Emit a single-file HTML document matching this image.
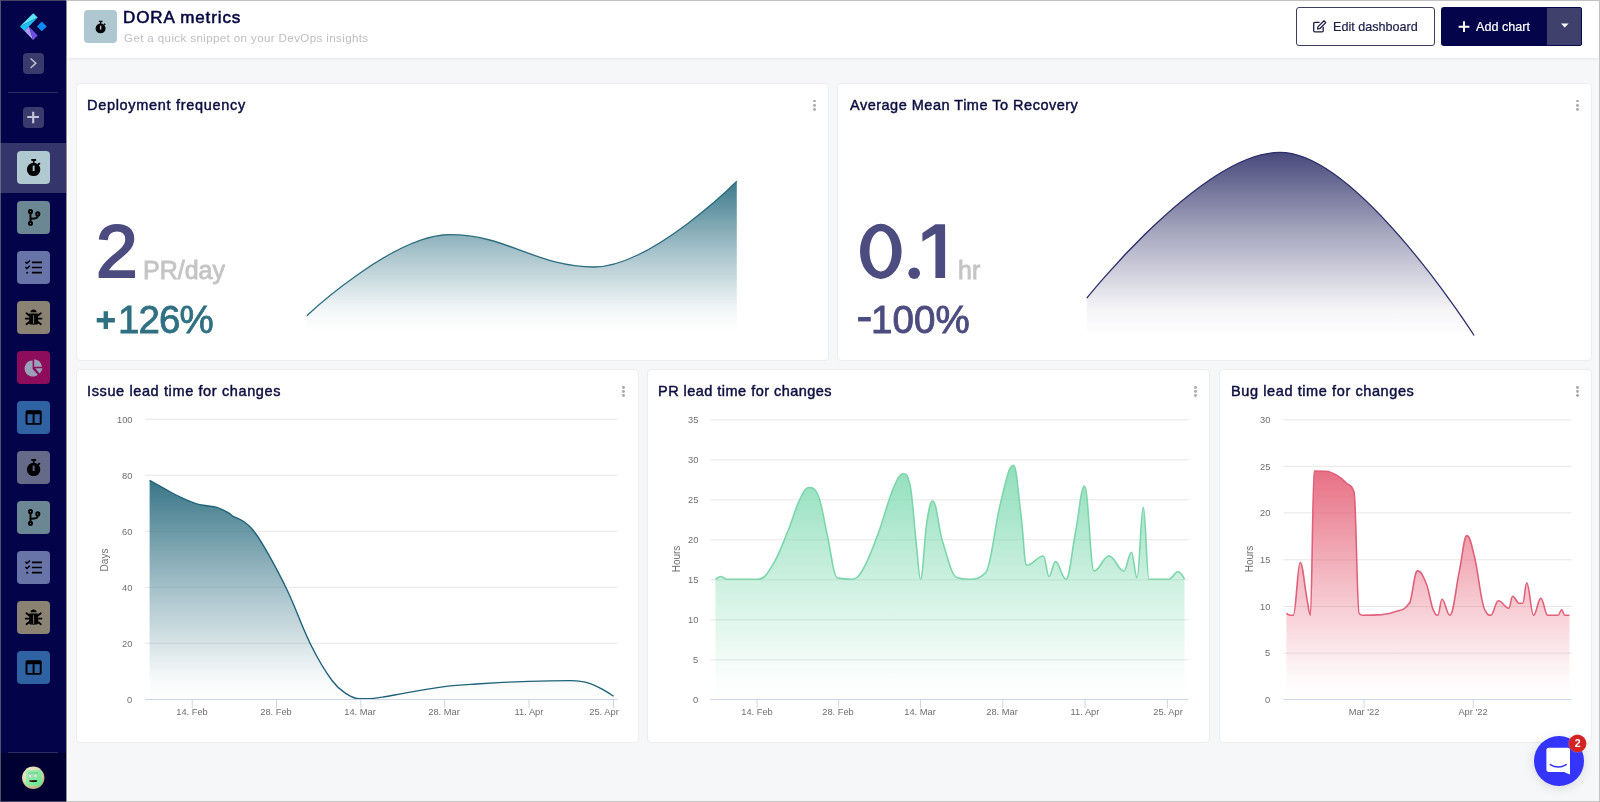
<!DOCTYPE html>
<html><head><meta charset="utf-8">
<style>
*{box-sizing:border-box;margin:0;padding:0}
html,body{width:1600px;height:802px;overflow:hidden;font-family:"Liberation Sans",sans-serif}
body{position:relative;background:#c4c4c4}
.abs{position:absolute}
#main{position:absolute;left:1px;top:1px;width:1598px;height:800px;background:#f6f7f9}
#side{position:absolute;left:0;top:0;width:66px;height:802px;background:#03034a}
#foot{position:absolute;left:0;top:753px;width:66px;height:49px;background:#000132}
.sep{position:absolute;left:8px;width:50px;height:1px;background:#2c2d63}
.ov{position:absolute;background:rgba(130,130,130,0.52)}
#sel{position:absolute;left:0;top:143px;width:66px;height:50px;background:#34356a}
.sb{position:absolute;left:16.6px;width:33.4px;height:33.4px;border-radius:4px;overflow:hidden}
.sb svg{position:absolute;left:0;top:0}
.sm{position:absolute;left:23px;width:20.5px;height:20.5px;border-radius:4px;background:#3a3b6c}
#vline{position:absolute;left:66px;top:1px;width:1px;height:800px;background:#8e8e94}
#wline{position:absolute;left:67px;top:1px;width:1px;height:800px;background:#fff}
#header{position:absolute;left:67px;top:1px;width:1532px;height:56.5px;background:#fff;box-shadow:0 1px 3px rgba(0,0,0,0.07)}
.card{position:absolute;background:#fff;border:1px solid #ededed;border-radius:4px}
.ttl{position:absolute;font-size:14.5px;color:#0d0f3f;white-space:nowrap;-webkit-text-stroke:0.45px #0d0f3f;line-height:1}
.dots{position:absolute;width:3px}
.dots i{display:block;width:2.8px;height:2.8px;border-radius:50%;background:#ababab;margin-bottom:1.3px}
.ax{position:absolute;font-size:9.3px;color:#6e6e6e;white-space:nowrap;line-height:1}
.ttl,.ax,.abs{will-change:transform}
</style></head>
<body>
<div id="main"></div>
<div id="side"></div>
<div id="sel"></div>
<div id="foot"></div>
<div class="sep" style="top:92px"></div>
<div class="sep" style="top:752px"></div>
<svg class="abs" style="left:0;top:0" width="66" height="45" viewBox="0 0 66 45">
  <polygon points="19.9,26.4 33.2,13.2 37.7,17.6" fill="#5fe3f7"/>
  <polygon points="19.9,26.4 37.7,17.6 24.4,30.9" fill="#1cc1f2"/>
  <polygon points="24.4,30.9 28.9,26.4 33.2,39.9" fill="#a99af2"/>
  <polygon points="28.9,26.4 37.7,35.4 33.2,39.9" fill="#6f4fe3"/>
  <polygon points="41.8,21.5 46.7,26.4 41.8,31.3 36.9,26.4" fill="#0b8bf6"/>
</svg>
<div class="sm" style="top:53px"><svg width="21" height="21" viewBox="0 0 21 21"><path d="M7.6 5.5 L12.8 10.2 L7.6 15" fill="none" stroke="#b9b9d2" stroke-width="1.6"/></svg></div>
<div class="sm" style="top:107.3px"><svg width="21" height="21" viewBox="0 0 21 21"><path d="M4.2 10 H16 M10.2 4.7 V16.2" fill="none" stroke="#c3c3da" stroke-width="2.2"/></svg></div>
<div class="sb" style="top:151px;background:#b0c8d0"><svg width="33" height="33" viewBox="0 0 33 33"><circle cx="16.6" cy="18.4" r="6.7" fill="#000"/><rect x="14.3" y="8" width="4.8" height="1.9" fill="#000"/><rect x="15.9" y="9" width="1.6" height="3.5" fill="#000"/><path d="M20.4 12.9 L22.3 11.4 L23.5 12.7 L21.7 14.4Z" fill="#000"/><rect x="15.7" y="14.6" width="1.9" height="5.4" fill="#b0c8d0"/></svg></div>
<div class="sb" style="top:201px;background:#6b8794"><svg width="33" height="33" viewBox="0 0 33 33"><g fill="none" stroke="#000" stroke-width="1.9"><circle cx="13.5" cy="10.6" r="1.6"/><circle cx="13.5" cy="22.3" r="1.6"/><circle cx="20.8" cy="12.9" r="1.6"/><path d="M13.5 12.3 V20.6"/><path d="M20.8 14.6 C20.8 17.5 18 17.5 13.5 17.8"/></g></svg></div>
<div class="sb" style="top:251px;background:#6873a8"><svg width="33" height="33" viewBox="0 0 33 33"><g stroke="#000" stroke-width="1.7" fill="none"><path d="M14.9 11.3 H24.9 M14.9 16.5 H24.9 M14.9 21.7 H24.9"/><path d="M8.4 10.9 L10 12.3 L12.9 9.6 M8.4 16.1 L10 17.5 L12.9 14.8" stroke-width="1.4"/></g><circle cx="10.2" cy="21.7" r="1" fill="#000"/></svg></div>
<div class="sb" style="top:301px;background:#8a8373"><svg width="33" height="33" viewBox="0 0 33 33"><g fill="#000"><path d="M13.5 11.2 C13.5 7.6 19.6 7.6 19.6 11.2Z"/><path d="M12.2 12.4 H21 V22.8 C21 24 12.2 24 12.2 22.8Z"/></g><rect x="16.2" y="14.2" width="0.9" height="8.6" fill="#8a8373"/><g stroke="#000" stroke-width="1.8" stroke-linecap="round"><path d="M9.5 12.3 L12.3 14.5 M23.8 12.3 L21 14.5 M8.7 17.6 H12.2 M24.5 17.6 H21 M9.5 23.2 L12.3 21 M23.8 23.2 L21 21"/></g></svg></div>
<div class="sb" style="top:351px;background:#8e0c5c"><svg width="33" height="33" viewBox="0 0 33 33"><g fill="#9aa0b8"><path d="M15.6 9.4 A8.1 8.1 0 1 0 20.9 23.7 L15.6 17.9Z"/><path d="M17.2 8.2 A8.2 8.2 0 0 1 24.9 15.8 H17.2Z"/><path d="M18.2 17.3 H25.4 A8 8 0 0 1 22.6 22.4Z"/></g></svg></div>
<div class="sb" style="top:401px;background:#2e62a2"><svg width="33" height="33" viewBox="0 0 33 33"><g fill="none" stroke="#000" stroke-width="1.9"><rect x="9.5" y="10.3" width="14.2" height="12.6" rx="1"/><path d="M16.6 12 V23"/></g><rect x="9" y="9.8" width="15.2" height="3.4" fill="#000"/></svg></div>
<div class="sb" style="top:451px;background:#656a88"><svg width="33" height="33" viewBox="0 0 33 33"><circle cx="16.6" cy="18.4" r="6.7" fill="#000"/><rect x="14.3" y="8" width="4.8" height="1.9" fill="#000"/><rect x="15.9" y="9" width="1.6" height="3.5" fill="#000"/><path d="M20.4 12.9 L22.3 11.4 L23.5 12.7 L21.7 14.4Z" fill="#000"/><rect x="15.7" y="14.6" width="1.9" height="5.4" fill="#656a88"/></svg></div>
<div class="sb" style="top:501px;background:#6b8794"><svg width="33" height="33" viewBox="0 0 33 33"><g fill="none" stroke="#000" stroke-width="1.9"><circle cx="13.5" cy="10.6" r="1.6"/><circle cx="13.5" cy="22.3" r="1.6"/><circle cx="20.8" cy="12.9" r="1.6"/><path d="M13.5 12.3 V20.6"/><path d="M20.8 14.6 C20.8 17.5 18 17.5 13.5 17.8"/></g></svg></div>
<div class="sb" style="top:551px;background:#6873a8"><svg width="33" height="33" viewBox="0 0 33 33"><g stroke="#000" stroke-width="1.7" fill="none"><path d="M14.9 11.3 H24.9 M14.9 16.5 H24.9 M14.9 21.7 H24.9"/><path d="M8.4 10.9 L10 12.3 L12.9 9.6 M8.4 16.1 L10 17.5 L12.9 14.8" stroke-width="1.4"/></g><circle cx="10.2" cy="21.7" r="1" fill="#000"/></svg></div>
<div class="sb" style="top:601px;background:#8a8373"><svg width="33" height="33" viewBox="0 0 33 33"><g fill="#000"><path d="M13.5 11.2 C13.5 7.6 19.6 7.6 19.6 11.2Z"/><path d="M12.2 12.4 H21 V22.8 C21 24 12.2 24 12.2 22.8Z"/></g><rect x="16.2" y="14.2" width="0.9" height="8.6" fill="#8a8373"/><g stroke="#000" stroke-width="1.8" stroke-linecap="round"><path d="M9.5 12.3 L12.3 14.5 M23.8 12.3 L21 14.5 M8.7 17.6 H12.2 M24.5 17.6 H21 M9.5 23.2 L12.3 21 M23.8 23.2 L21 21"/></g></svg></div>
<div class="sb" style="top:651px;background:#2e62a2"><svg width="33" height="33" viewBox="0 0 33 33"><g fill="none" stroke="#000" stroke-width="1.9"><rect x="9.5" y="10.3" width="14.2" height="12.6" rx="1"/><path d="M16.6 12 V23"/></g><rect x="9" y="9.8" width="15.2" height="3.4" fill="#000"/></svg></div><div class="ov" style="left:0;top:0;width:1px;height:802px;background:rgba(140,140,140,0.58)"></div><div class="ov" style="left:1px;top:0;width:66px;height:1px"></div><div class="ov" style="left:1px;top:801px;width:66px;height:1px"></div><div id="vline"></div><div id="wline"></div>
<div id="header"></div>
<div class="abs" style="left:84px;top:10px;width:33px;height:33px;border-radius:4px;background:#aec7d0">
<svg width="33" height="33" viewBox="0 0 33 33"><g transform="translate(16.5 17) scale(0.74) translate(-16.5 -16.5)"><circle cx="16.6" cy="18.4" r="6.7" fill="#000"/><rect x="14.3" y="8" width="4.8" height="1.9" fill="#000"/><rect x="15.9" y="9" width="1.6" height="3.5" fill="#000"/><path d="M20.4 12.9 L22.3 11.4 L23.5 12.7 L21.7 14.4Z" fill="#000"/><rect x="15.7" y="14.6" width="1.9" height="5.4" fill="#aec7d0"/></g></svg>
</div>
<div class="abs" id="htitle" style="left:122.8px;top:8px;font-size:17px;line-height:20px;color:#04053f;white-space:nowrap;letter-spacing:0.87px;-webkit-text-stroke:0.55px #04053f">DORA metrics</div>
<div class="abs" id="hsub" style="left:123.5px;top:31px;font-size:11.6px;line-height:14px;color:#bdbdc3;white-space:nowrap;letter-spacing:0.366px">Get a quick snippet on your DevOps insights</div>
<div class="abs" style="left:1296px;top:7px;width:139px;height:39px;border:1px solid #3c3e5f;border-radius:3px;background:#fff"></div>
<svg class="abs" style="left:1312px;top:19px" width="16" height="15" viewBox="0 0 16 15"><path d="M7.6 3.4 H2.8 Q1.7 3.4 1.7 4.5 V11.8 Q1.7 12.9 2.8 12.9 H10.1 Q11.2 12.9 11.2 11.8 V7.8" fill="none" stroke="#1b1d45" stroke-width="1.3"/><path d="M5.6 10 L5.9 7.9 L12 1.8 L13.8 3.6 L7.7 9.7Z" fill="none" stroke="#1b1d45" stroke-width="1.25" stroke-linejoin="round"/></svg>
<div class="abs" id="bedit" style="left:1332.6px;top:20.2px;font-size:12.6px;line-height:15px;color:#1b1d45;white-space:nowrap;-webkit-text-stroke:0.2px #1b1d45">Edit dashboard</div>
<div class="abs" style="left:1441px;top:7px;width:141px;height:39px;border-radius:3px;background:#03044a;overflow:hidden"><div class="abs" style="left:106px;top:0;width:35px;height:39px;background:#3f416c;box-shadow:inset -1px 0 0 #06074e,inset 0 1px 0 #06074e,inset 0 -1px 0 #06074e"></div></div>
<svg class="abs" style="left:1457px;top:20px" width="14" height="14" viewBox="0 0 14 14"><path d="M1.6 6.7 H12.4 M7 1.3 V12" stroke="#fff" stroke-width="1.9"/></svg>
<div class="abs" id="badd" style="left:1475.5px;top:20.2px;font-size:12.6px;line-height:15px;color:#fff;white-space:nowrap;-webkit-text-stroke:0.2px #fff">Add chart</div>
<svg class="abs" style="left:1559px;top:22px" width="12" height="8" viewBox="0 0 12 8"><path d="M2 1.6 H9.6 L5.8 5.6Z" fill="#fff"/></svg>
<svg class="abs" style="left:20px;top:765px" width="27" height="27" viewBox="0 0 27 27">
  <defs><radialGradient id="avr" cx="0.4" cy="0.35" r="0.7"><stop offset="0" stop-color="#f2eed8"/><stop offset="0.6" stop-color="#e2dab0"/><stop offset="1" stop-color="#b0a878"/></radialGradient>
  <linearGradient id="avg" x1="0" y1="0" x2="1" y2="1"><stop offset="0" stop-color="#a8f0b8"/><stop offset="1" stop-color="#5ee88c"/></linearGradient></defs>
  <circle cx="13.25" cy="12.8" r="11.2" fill="url(#avr)"/>
  <rect x="5.8" y="5" width="15.7" height="15.6" rx="2.6" fill="url(#avg)"/>
  <rect x="8.6" y="7.4" width="9.6" height="1" fill="#58b878" opacity="0.7"/>
  <circle cx="10" cy="10.9" r="1.7" fill="#eee2ea" stroke="#9ab8a0" stroke-width="0.4"/><circle cx="15.4" cy="10.9" r="1.7" fill="#eee2ea" stroke="#9ab8a0" stroke-width="0.4"/>
  <path d="M9.2 15.3 H17.3 L16.6 16.9 H10 Z" fill="#1a0a0a"/>
  <rect x="10" y="15.6" width="1.6" height="0.9" fill="#c04040"/>
</svg>
<div class="card" style="left:75.5px;top:83px;width:753px;height:278px"></div>
<div class="card" style="left:837px;top:83px;width:754.5px;height:278px"></div>
<div class="card" style="left:75.5px;top:369px;width:563px;height:374px"></div>
<div class="card" style="left:646.5px;top:369px;width:563px;height:374px"></div>
<div class="card" style="left:1219px;top:369px;width:372.5px;height:374px"></div>
<div class="ttl" style="left:87.3px;top:97.5px;letter-spacing:0.69px">Deployment frequency</div>
<div class="ttl" style="left:849.8px;top:97.5px;letter-spacing:0.5px">Average Mean Time To Recovery</div>
<div class="ttl" style="left:86.8px;top:383.7px;letter-spacing:0.62px">Issue lead time for changes</div>
<div class="ttl" style="left:658.3px;top:383.7px;letter-spacing:0.47px">PR lead time for changes</div>
<div class="ttl" style="left:1230.8px;top:383.7px;letter-spacing:0.6px">Bug lead time for changes</div>
<div class="dots" style="left:813.2px;top:99.7px"><i></i><i></i><i></i></div>
<div class="dots" style="left:1575.9px;top:99.7px"><i></i><i></i><i></i></div>
<div class="dots" style="left:622.4px;top:385.8px"><i></i><i></i><i></i></div>
<div class="dots" style="left:1193.9px;top:385.8px"><i></i><i></i><i></i></div>
<div class="dots" style="left:1576.4px;top:385.8px"><i></i><i></i><i></i></div>
<svg class="abs" style="left:0;top:0" width="1600" height="802" viewBox="0 0 1600 802"><defs><linearGradient id="g1" x1="0" y1="0" x2="0" y2="1"><stop offset="0" stop-color="#3c7a8c" stop-opacity="1.000"/><stop offset="0.45" stop-color="#3c7a8c" stop-opacity="0.470"/><stop offset="0.85" stop-color="#3c7a8c" stop-opacity="0.060"/><stop offset="1" stop-color="#3c7a8c" stop-opacity="0.000"/></linearGradient><linearGradient id="g2" x1="0" y1="0" x2="0" y2="1"><stop offset="0" stop-color="#48497b" stop-opacity="1.000"/><stop offset="0.45" stop-color="#48497b" stop-opacity="0.470"/><stop offset="0.85" stop-color="#48497b" stop-opacity="0.060"/><stop offset="1" stop-color="#48497b" stop-opacity="0.000"/></linearGradient><linearGradient id="g3" x1="0" y1="0" x2="0" y2="1"><stop offset="0" stop-color="#2f6f82" stop-opacity="0.950"/><stop offset="0.5" stop-color="#2f6f82" stop-opacity="0.427"/><stop offset="0.9" stop-color="#2f6f82" stop-opacity="0.048"/><stop offset="1" stop-color="#2f6f82" stop-opacity="0.000"/></linearGradient><linearGradient id="g4" x1="0" y1="0" x2="0" y2="1"><stop offset="0" stop-color="#7dd9b0" stop-opacity="0.850"/><stop offset="0.5" stop-color="#7dd9b0" stop-opacity="0.383"/><stop offset="0.9" stop-color="#7dd9b0" stop-opacity="0.043"/><stop offset="1" stop-color="#7dd9b0" stop-opacity="0.000"/></linearGradient><linearGradient id="g5" x1="0" y1="0" x2="0" y2="1"><stop offset="0" stop-color="#e5647a" stop-opacity="0.920"/><stop offset="0.5" stop-color="#e5647a" stop-opacity="0.414"/><stop offset="0.9" stop-color="#e5647a" stop-opacity="0.046"/><stop offset="1" stop-color="#e5647a" stop-opacity="0.000"/></linearGradient></defs><path d="M306.80 315.70 C306.80 315.70 392.72 234.70 450.00 234.70 C507.60 234.70 536.40 267.00 594.00 267.00 C651.12 267.00 736.80 181.30 736.80 181.30 L736.80 333 L306.80 333 Z" fill="url(#g1)"/><path d="M306.80 315.70 C306.80 315.70 392.72 234.70 450.00 234.70 C507.60 234.70 536.40 267.00 594.00 267.00 C651.12 267.00 736.80 181.30 736.80 181.30" fill="none" stroke="#2b6c7f" stroke-width="1.3"/><clipPath id="c2"><rect x="1000" y="100" width="500" height="233.5"/></clipPath><path d="M1086.80 298.10 C1086.80 298.10 1202.72 152.30 1280.00 152.30 C1357.64 152.30 1474.10 335.50 1474.10 335.50 L1474.10 336 L1086.80 336 Z" fill="url(#g2)" clip-path="url(#c2)"/><path d="M1086.80 298.10 C1086.80 298.10 1202.72 152.30 1280.00 152.30 C1357.64 152.30 1474.10 335.50 1474.10 335.50" fill="none" stroke="#2c2e68" stroke-width="1.3"/><path d="M145 419.3H617.5" stroke="#e6e6e6" stroke-width="1"/><path d="M145 475.3H617.5" stroke="#e6e6e6" stroke-width="1"/><path d="M145 531.3H617.5" stroke="#e6e6e6" stroke-width="1"/><path d="M145 587.3H617.5" stroke="#e6e6e6" stroke-width="1"/><path d="M145 643.3H617.5" stroke="#e6e6e6" stroke-width="1"/><path d="M149.60 480.40 C149.60 480.40 158.78 485.57 164.90 488.90 C170.90 492.17 173.90 494.08 179.90 496.90 C186.66 500.08 190.04 501.69 196.80 503.90 C200.80 505.21 202.80 505.00 206.80 505.70 C210.80 506.40 212.80 506.08 216.80 507.40 C221.56 508.96 223.94 510.30 228.70 512.90 C230.30 513.78 231.10 515.12 232.70 516.10 C234.70 517.32 235.70 517.37 237.70 518.40 C240.50 519.85 241.90 520.17 244.70 522.30 C247.90 524.73 249.50 525.82 252.70 529.80 C257.06 535.22 259.24 538.19 263.60 545.80 C272.96 562.15 277.64 570.09 287.00 589.70 C296.52 609.65 301.28 625.49 310.80 644.70 C319.28 661.81 323.52 668.90 332.00 680.50 C338.00 688.70 341.00 690.21 347.00 694.20 C352.00 697.53 354.50 698.80 359.50 698.80 C366.58 698.80 370.12 698.80 377.20 697.90 C388.72 696.44 394.48 694.83 406.00 692.90 C421.40 690.31 429.10 688.56 444.50 686.60 C457.10 685.00 463.40 684.78 476.00 684.00 C497.00 682.70 507.50 682.16 528.50 681.40 C545.26 680.80 553.64 680.60 570.40 680.60 C574.56 680.60 576.64 680.60 580.80 681.40 C593.92 682.20 613.60 696.30 613.60 696.30 L613.60 699 L149.60 699 Z" fill="url(#g3)"/><path d="M149.60 480.40 C149.60 480.40 158.78 485.57 164.90 488.90 C170.90 492.17 173.90 494.08 179.90 496.90 C186.66 500.08 190.04 501.69 196.80 503.90 C200.80 505.21 202.80 505.00 206.80 505.70 C210.80 506.40 212.80 506.08 216.80 507.40 C221.56 508.96 223.94 510.30 228.70 512.90 C230.30 513.78 231.10 515.12 232.70 516.10 C234.70 517.32 235.70 517.37 237.70 518.40 C240.50 519.85 241.90 520.17 244.70 522.30 C247.90 524.73 249.50 525.82 252.70 529.80 C257.06 535.22 259.24 538.19 263.60 545.80 C272.96 562.15 277.64 570.09 287.00 589.70 C296.52 609.65 301.28 625.49 310.80 644.70 C319.28 661.81 323.52 668.90 332.00 680.50 C338.00 688.70 341.00 690.21 347.00 694.20 C352.00 697.53 354.50 698.80 359.50 698.80 C366.58 698.80 370.12 698.80 377.20 697.90 C388.72 696.44 394.48 694.83 406.00 692.90 C421.40 690.31 429.10 688.56 444.50 686.60 C457.10 685.00 463.40 684.78 476.00 684.00 C497.00 682.70 507.50 682.16 528.50 681.40 C545.26 680.80 553.64 680.60 570.40 680.60 C574.56 680.60 576.64 680.60 580.80 681.40 C593.92 682.20 613.60 696.30 613.60 696.30" fill="none" stroke="#1f6378" stroke-width="1.4"/><path d="M145 699.5H617.5" stroke="#ccd6eb" stroke-width="1"/><path d="M192.2 699V708" stroke="#ccd6eb" stroke-width="1"/><path d="M276.5 699V708" stroke="#ccd6eb" stroke-width="1"/><path d="M360.9 699V708" stroke="#ccd6eb" stroke-width="1"/><path d="M444.7 699V708" stroke="#ccd6eb" stroke-width="1"/><path d="M529.0 699V708" stroke="#ccd6eb" stroke-width="1"/><path d="M613.5 699V708" stroke="#ccd6eb" stroke-width="1"/><path d="M710.6 419.8H1188.6" stroke="#e6e6e6" stroke-width="1"/><path d="M710.6 459.8H1188.6" stroke="#e6e6e6" stroke-width="1"/><path d="M710.6 499.8H1188.6" stroke="#e6e6e6" stroke-width="1"/><path d="M710.6 539.8H1188.6" stroke="#e6e6e6" stroke-width="1"/><path d="M710.6 579.8H1188.6" stroke="#e6e6e6" stroke-width="1"/><path d="M710.6 619.8H1188.6" stroke="#e6e6e6" stroke-width="1"/><path d="M710.6 659.8H1188.6" stroke="#e6e6e6" stroke-width="1"/><path d="M715.50 579.20 C715.50 579.20 718.80 576.50 721.00 576.50 C723.28 576.50 724.42 579.20 726.70 579.20 C739.42 579.20 745.78 579.20 758.50 579.20 C764.50 579.20 767.50 573.41 773.50 563.50 C779.46 553.65 782.44 544.32 788.40 529.80 C792.88 518.88 795.12 509.10 799.60 499.90 C803.36 492.18 805.24 487.50 809.00 487.50 C812.76 487.50 814.64 487.50 818.40 496.00 C822.12 504.50 823.98 520.96 827.70 537.30 C831.42 553.64 833.28 576.20 837.00 577.70 C843.00 579.20 846.00 579.20 852.00 579.20 C856.48 579.20 858.72 576.81 863.20 569.00 C869.20 558.53 872.20 549.58 878.20 533.50 C884.20 517.42 887.20 502.73 893.20 488.60 C897.36 478.81 899.44 473.70 903.60 473.70 C906.16 473.70 907.44 473.70 910.00 484.90 C912.56 496.10 913.84 521.81 916.40 544.80 C918.04 559.53 918.86 579.20 920.50 579.20 C923.02 579.20 924.28 538.32 926.80 522.30 C929.20 507.04 930.40 501.00 932.80 501.00 C936.64 501.00 938.56 529.03 942.40 541.00 C948.40 559.71 951.40 576.20 957.40 577.70 C961.88 579.20 964.12 579.20 968.60 579.20 C975.36 579.20 978.74 579.20 985.50 572.80 C991.46 566.40 994.44 526.46 1000.40 503.60 C1005.64 483.50 1008.26 465.40 1013.50 465.40 C1016.50 465.40 1018.00 491.92 1021.00 514.80 C1023.24 531.88 1024.36 565.30 1026.60 565.30 C1033.36 565.30 1036.74 556.00 1043.50 556.00 C1045.70 556.00 1046.80 576.50 1049.00 576.50 C1051.56 576.50 1052.84 561.60 1055.40 561.60 C1059.64 561.60 1061.76 579.20 1066.00 579.20 C1069.72 579.20 1071.58 552.14 1075.30 533.50 C1079.02 514.86 1080.88 486.00 1084.60 486.00 C1088.36 486.00 1090.24 571.00 1094.00 571.00 C1100.00 571.00 1103.00 556.00 1109.00 556.00 C1114.96 556.00 1117.94 571.00 1123.90 571.00 C1126.90 571.00 1128.40 552.20 1131.40 552.20 C1133.64 552.20 1134.76 577.70 1137.00 577.70 C1139.52 577.70 1140.78 507.30 1143.30 507.30 C1145.58 507.30 1146.72 579.20 1149.00 579.20 C1156.92 579.20 1160.88 579.20 1168.80 579.20 C1172.52 579.20 1174.38 571.70 1178.10 571.70 C1180.66 571.70 1184.50 579.20 1184.50 579.20 L1184.50 699 L715.50 699 Z" fill="url(#g4)"/><path d="M715.50 579.20 C715.50 579.20 718.80 576.50 721.00 576.50 C723.28 576.50 724.42 579.20 726.70 579.20 C739.42 579.20 745.78 579.20 758.50 579.20 C764.50 579.20 767.50 573.41 773.50 563.50 C779.46 553.65 782.44 544.32 788.40 529.80 C792.88 518.88 795.12 509.10 799.60 499.90 C803.36 492.18 805.24 487.50 809.00 487.50 C812.76 487.50 814.64 487.50 818.40 496.00 C822.12 504.50 823.98 520.96 827.70 537.30 C831.42 553.64 833.28 576.20 837.00 577.70 C843.00 579.20 846.00 579.20 852.00 579.20 C856.48 579.20 858.72 576.81 863.20 569.00 C869.20 558.53 872.20 549.58 878.20 533.50 C884.20 517.42 887.20 502.73 893.20 488.60 C897.36 478.81 899.44 473.70 903.60 473.70 C906.16 473.70 907.44 473.70 910.00 484.90 C912.56 496.10 913.84 521.81 916.40 544.80 C918.04 559.53 918.86 579.20 920.50 579.20 C923.02 579.20 924.28 538.32 926.80 522.30 C929.20 507.04 930.40 501.00 932.80 501.00 C936.64 501.00 938.56 529.03 942.40 541.00 C948.40 559.71 951.40 576.20 957.40 577.70 C961.88 579.20 964.12 579.20 968.60 579.20 C975.36 579.20 978.74 579.20 985.50 572.80 C991.46 566.40 994.44 526.46 1000.40 503.60 C1005.64 483.50 1008.26 465.40 1013.50 465.40 C1016.50 465.40 1018.00 491.92 1021.00 514.80 C1023.24 531.88 1024.36 565.30 1026.60 565.30 C1033.36 565.30 1036.74 556.00 1043.50 556.00 C1045.70 556.00 1046.80 576.50 1049.00 576.50 C1051.56 576.50 1052.84 561.60 1055.40 561.60 C1059.64 561.60 1061.76 579.20 1066.00 579.20 C1069.72 579.20 1071.58 552.14 1075.30 533.50 C1079.02 514.86 1080.88 486.00 1084.60 486.00 C1088.36 486.00 1090.24 571.00 1094.00 571.00 C1100.00 571.00 1103.00 556.00 1109.00 556.00 C1114.96 556.00 1117.94 571.00 1123.90 571.00 C1126.90 571.00 1128.40 552.20 1131.40 552.20 C1133.64 552.20 1134.76 577.70 1137.00 577.70 C1139.52 577.70 1140.78 507.30 1143.30 507.30 C1145.58 507.30 1146.72 579.20 1149.00 579.20 C1156.92 579.20 1160.88 579.20 1168.80 579.20 C1172.52 579.20 1174.38 571.70 1178.10 571.70 C1180.66 571.70 1184.50 579.20 1184.50 579.20" fill="none" stroke="#7dd6ab" stroke-width="1.6"/><path d="M710.6 699.5H1188.6" stroke="#ccd6eb" stroke-width="1"/><path d="M757.1 699V708" stroke="#ccd6eb" stroke-width="1"/><path d="M838.7 699V708" stroke="#ccd6eb" stroke-width="1"/><path d="M920.6 699V708" stroke="#ccd6eb" stroke-width="1"/><path d="M1002.8 699V708" stroke="#ccd6eb" stroke-width="1"/><path d="M1085.1 699V708" stroke="#ccd6eb" stroke-width="1"/><path d="M1167.4 699V708" stroke="#ccd6eb" stroke-width="1"/><path d="M1283.4 419.8H1571.6" stroke="#e6e6e6" stroke-width="1"/><path d="M1283.4 466.3H1571.6" stroke="#e6e6e6" stroke-width="1"/><path d="M1283.4 512.9H1571.6" stroke="#e6e6e6" stroke-width="1"/><path d="M1283.4 559.8H1571.6" stroke="#e6e6e6" stroke-width="1"/><path d="M1283.4 606.5H1571.6" stroke="#e6e6e6" stroke-width="1"/><path d="M1283.4 653.1999999999999H1571.6" stroke="#e6e6e6" stroke-width="1"/><path d="M1286.40 613.40 C1286.40 613.40 1288.74 615.20 1290.30 615.20 C1291.50 615.20 1292.10 615.20 1293.30 615.20 C1296.06 615.20 1297.44 562.50 1300.20 562.50 C1302.84 562.50 1304.16 584.16 1306.80 597.80 C1308.24 605.24 1308.96 615.20 1310.40 615.20 C1311.92 615.20 1312.68 471.00 1314.20 471.00 C1318.92 471.00 1321.28 471.00 1326.00 471.30 C1330.40 471.60 1332.60 472.94 1337.00 475.50 C1341.00 477.82 1343.00 479.59 1347.00 483.50 C1349.84 486.27 1351.26 483.50 1354.10 492.20 C1356.10 500.90 1357.10 611.60 1359.10 613.40 C1360.30 615.20 1360.90 615.20 1362.10 615.20 C1369.90 615.20 1373.80 615.20 1381.60 614.60 C1386.36 614.00 1388.74 614.26 1393.50 612.20 C1400.10 609.34 1403.40 612.20 1410.00 602.30 C1413.00 592.40 1414.50 570.90 1417.50 570.90 C1421.10 570.90 1422.90 575.49 1426.50 584.30 C1429.50 591.65 1431.00 607.40 1434.00 611.30 C1435.52 615.20 1436.28 615.20 1437.80 615.20 C1439.48 615.20 1440.32 599.30 1442.00 599.30 C1445.12 599.30 1446.68 615.20 1449.80 615.20 C1453.64 615.20 1455.56 588.78 1459.40 570.90 C1462.40 556.94 1463.90 535.60 1466.90 535.60 C1469.86 535.60 1471.34 543.98 1474.30 555.90 C1478.86 574.26 1481.14 607.40 1485.70 611.30 C1487.74 615.20 1488.76 615.20 1490.80 615.20 C1493.80 615.20 1495.30 600.80 1498.30 600.80 C1502.50 600.80 1504.60 608.30 1508.80 608.30 C1510.32 608.30 1511.08 596.30 1512.60 596.30 C1515.24 596.30 1516.56 603.20 1519.20 603.20 C1520.64 603.20 1521.36 603.20 1522.80 603.20 C1524.36 603.20 1525.14 582.80 1526.70 582.80 C1529.46 582.80 1530.84 615.20 1533.60 615.20 C1536.48 615.20 1537.92 598.40 1540.80 598.40 C1543.56 598.40 1544.94 615.20 1547.70 615.20 C1551.86 615.20 1553.94 615.20 1558.10 615.20 C1559.54 615.20 1560.26 609.80 1561.70 609.80 C1562.90 609.80 1563.50 615.20 1564.70 615.20 C1566.62 615.20 1569.50 615.20 1569.50 615.20 L1569.50 699 L1286.40 699 Z" fill="url(#g5)"/><path d="M1286.40 613.40 C1286.40 613.40 1288.74 615.20 1290.30 615.20 C1291.50 615.20 1292.10 615.20 1293.30 615.20 C1296.06 615.20 1297.44 562.50 1300.20 562.50 C1302.84 562.50 1304.16 584.16 1306.80 597.80 C1308.24 605.24 1308.96 615.20 1310.40 615.20 C1311.92 615.20 1312.68 471.00 1314.20 471.00 C1318.92 471.00 1321.28 471.00 1326.00 471.30 C1330.40 471.60 1332.60 472.94 1337.00 475.50 C1341.00 477.82 1343.00 479.59 1347.00 483.50 C1349.84 486.27 1351.26 483.50 1354.10 492.20 C1356.10 500.90 1357.10 611.60 1359.10 613.40 C1360.30 615.20 1360.90 615.20 1362.10 615.20 C1369.90 615.20 1373.80 615.20 1381.60 614.60 C1386.36 614.00 1388.74 614.26 1393.50 612.20 C1400.10 609.34 1403.40 612.20 1410.00 602.30 C1413.00 592.40 1414.50 570.90 1417.50 570.90 C1421.10 570.90 1422.90 575.49 1426.50 584.30 C1429.50 591.65 1431.00 607.40 1434.00 611.30 C1435.52 615.20 1436.28 615.20 1437.80 615.20 C1439.48 615.20 1440.32 599.30 1442.00 599.30 C1445.12 599.30 1446.68 615.20 1449.80 615.20 C1453.64 615.20 1455.56 588.78 1459.40 570.90 C1462.40 556.94 1463.90 535.60 1466.90 535.60 C1469.86 535.60 1471.34 543.98 1474.30 555.90 C1478.86 574.26 1481.14 607.40 1485.70 611.30 C1487.74 615.20 1488.76 615.20 1490.80 615.20 C1493.80 615.20 1495.30 600.80 1498.30 600.80 C1502.50 600.80 1504.60 608.30 1508.80 608.30 C1510.32 608.30 1511.08 596.30 1512.60 596.30 C1515.24 596.30 1516.56 603.20 1519.20 603.20 C1520.64 603.20 1521.36 603.20 1522.80 603.20 C1524.36 603.20 1525.14 582.80 1526.70 582.80 C1529.46 582.80 1530.84 615.20 1533.60 615.20 C1536.48 615.20 1537.92 598.40 1540.80 598.40 C1543.56 598.40 1544.94 615.20 1547.70 615.20 C1551.86 615.20 1553.94 615.20 1558.10 615.20 C1559.54 615.20 1560.26 609.80 1561.70 609.80 C1562.90 609.80 1563.50 615.20 1564.70 615.20 C1566.62 615.20 1569.50 615.20 1569.50 615.20" fill="none" stroke="#e0617a" stroke-width="1.6"/><path d="M1283.4 699.5H1571.6" stroke="#ccd6eb" stroke-width="1"/><path d="M1364.1 699V708" stroke="#ccd6eb" stroke-width="1"/><path d="M1473.3 699V708" stroke="#ccd6eb" stroke-width="1"/></svg>
<div class="ax" style="right:1467.7px;top:415.5px">100</div>
<div class="ax" style="right:1467.7px;top:471.5px">80</div>
<div class="ax" style="right:1467.7px;top:527.5px">60</div>
<div class="ax" style="right:1467.7px;top:583.5px">40</div>
<div class="ax" style="right:1467.7px;top:639.5px">20</div>
<div class="ax" style="right:1467.7px;top:695.5px">0</div>
<div class="ax" style="right:901.4px;top:416.0px">35</div>
<div class="ax" style="right:901.4px;top:456.0px">30</div>
<div class="ax" style="right:901.4px;top:496.0px">25</div>
<div class="ax" style="right:901.4px;top:536.0px">20</div>
<div class="ax" style="right:901.4px;top:576.0px">15</div>
<div class="ax" style="right:901.4px;top:616.0px">10</div>
<div class="ax" style="right:901.4px;top:656.0px">5</div>
<div class="ax" style="right:901.4px;top:695.8px">0</div>
<div class="ax" style="right:329.4000000000001px;top:416.0px">30</div>
<div class="ax" style="right:329.4000000000001px;top:462.5px">25</div>
<div class="ax" style="right:329.4000000000001px;top:509.1px">20</div>
<div class="ax" style="right:329.4000000000001px;top:556.0px">15</div>
<div class="ax" style="right:329.4000000000001px;top:602.7px">10</div>
<div class="ax" style="right:329.4000000000001px;top:649.4px">5</div>
<div class="ax" style="right:329.4000000000001px;top:696.0px">0</div>
<div class="ax" style="left:141.7px;width:100px;text-align:center;top:708px">14. Feb</div>
<div class="ax" style="left:226px;width:100px;text-align:center;top:708px">28. Feb</div>
<div class="ax" style="left:310.4px;width:100px;text-align:center;top:708px">14. Mar</div>
<div class="ax" style="left:394.2px;width:100px;text-align:center;top:708px">28. Mar</div>
<div class="ax" style="left:478.5px;width:100px;text-align:center;top:708px">11. Apr</div>
<div class="ax" style="left:553.6px;width:100px;text-align:center;top:708px">25. Apr</div>
<div class="ax" style="left:706.6px;width:100px;text-align:center;top:708px">14. Feb</div>
<div class="ax" style="left:788.2px;width:100px;text-align:center;top:708px">28. Feb</div>
<div class="ax" style="left:870.1px;width:100px;text-align:center;top:708px">14. Mar</div>
<div class="ax" style="left:952.3px;width:100px;text-align:center;top:708px">28. Mar</div>
<div class="ax" style="left:1034.6px;width:100px;text-align:center;top:708px">11. Apr</div>
<div class="ax" style="left:1118px;width:100px;text-align:center;top:708px">25. Apr</div>
<div class="ax" style="left:1313.6px;width:100px;text-align:center;top:708px">Mar '22</div>
<div class="ax" style="left:1422.8px;width:100px;text-align:center;top:708px">Apr '22</div>
<div class="ax" style="left:75px;top:554.5px;width:60px;text-align:center;transform:rotate(-90deg);font-size:10px">Days</div>
<div class="ax" style="left:646.5px;top:554px;width:60px;text-align:center;transform:rotate(-90deg);font-size:10px">Hours</div>
<div class="ax" style="left:1219.5px;top:554.3px;width:60px;text-align:center;transform:rotate(-90deg);font-size:10px">Hours</div>
<div class="abs" style="left:95.5px;top:210.8px;font-size:75px;line-height:80px;color:#4c4c80;letter-spacing:0px;-webkit-text-stroke:2.2px #4c4c80;white-space:nowrap;">2</div>
<div class="abs" style="left:142.5px;top:255px;font-size:25px;line-height:30px;color:#c5c5c5;letter-spacing:0px;-webkit-text-stroke:0.85px #c5c5c5;white-space:nowrap;">PR/day</div>
<svg class="abs" style="left:90px;top:305px" width="30" height="30" viewBox="90 305 30 30"><path d="M96.7 320.2 H114.9 M105.8 311.2 V329.1" stroke="#2f7082" stroke-width="4.4"/></svg>
<div class="abs" style="left:117.5px;top:299.7px;font-size:38.5px;line-height:40px;color:#2f7082;letter-spacing:-0.9px;-webkit-text-stroke:0.8px #2f7082;white-space:nowrap;">126%</div>
<svg class="abs" style="left:850px;top:215px" width="110" height="70" viewBox="850 215 110 70"><path fill-rule="evenodd" fill="#4d4c80" d="M901.6 251.35 A20.8 27.55 0 1 1 860 251.35 A20.8 27.55 0 1 1 901.6 251.35Z M892.1 251.35 A11.3 20.15 0 1 0 869.5 251.35 A11.3 20.15 0 1 0 892.1 251.35Z"/><circle cx="914.2" cy="273.2" r="5.8" fill="#4d4c80"/><path fill="#4d4c80" d="M935.4 224.2 H945.1 V277.9 H935.4 V233.8 L922.4 241.5 V233 Z"/></svg>
<div class="abs" style="left:958px;top:255px;font-size:25px;line-height:30px;color:#c5c5c5;letter-spacing:0px;-webkit-text-stroke:0.85px #c5c5c5;white-space:nowrap;">hr</div>
<svg class="abs" style="left:850px;top:305px" width="30" height="30" viewBox="850 305 30 30"><path d="M858.1 319.2 H870.8" stroke="#4c4c80" stroke-width="4.5"/></svg>
<div class="abs" style="left:871px;top:299.7px;font-size:38.5px;line-height:40px;color:#4c4c80;letter-spacing:0.1px;-webkit-text-stroke:0.9px #4c4c80;white-space:nowrap;">100%</div>
<div class="abs" style="left:1533.7px;top:736.3px;width:49.6px;height:49.6px;border-radius:50%;background:#3434fb;box-shadow:0 2px 12px rgba(0,0,0,0.12)"></div>
<svg class="abs" style="left:1530px;top:730px" width="64" height="64" viewBox="1530 730 64 64">
<path d="M1549 747.7 H1567.6 Q1570 747.7 1570 750.1 V774.4 L1564 771.9 H1549 Q1546.4 771.9 1546.4 769.5 V750.1 Q1546.4 747.7 1549 747.7Z" fill="#fff"/>
<path d="M1550.3 764.6 Q1558.2 769.4 1566.2 764.6" fill="none" stroke="#3434fb" stroke-width="1.5" stroke-linecap="round"/>
<circle cx="1577.5" cy="743.5" r="9" fill="#d52222" stroke="#fff" stroke-opacity="0.25" stroke-width="0.6"/>
<text x="1577.6" y="747.3" font-family="Liberation Sans" font-size="10.5" font-weight="bold" fill="#fff" text-anchor="middle">2</text>
</svg></body></html>
